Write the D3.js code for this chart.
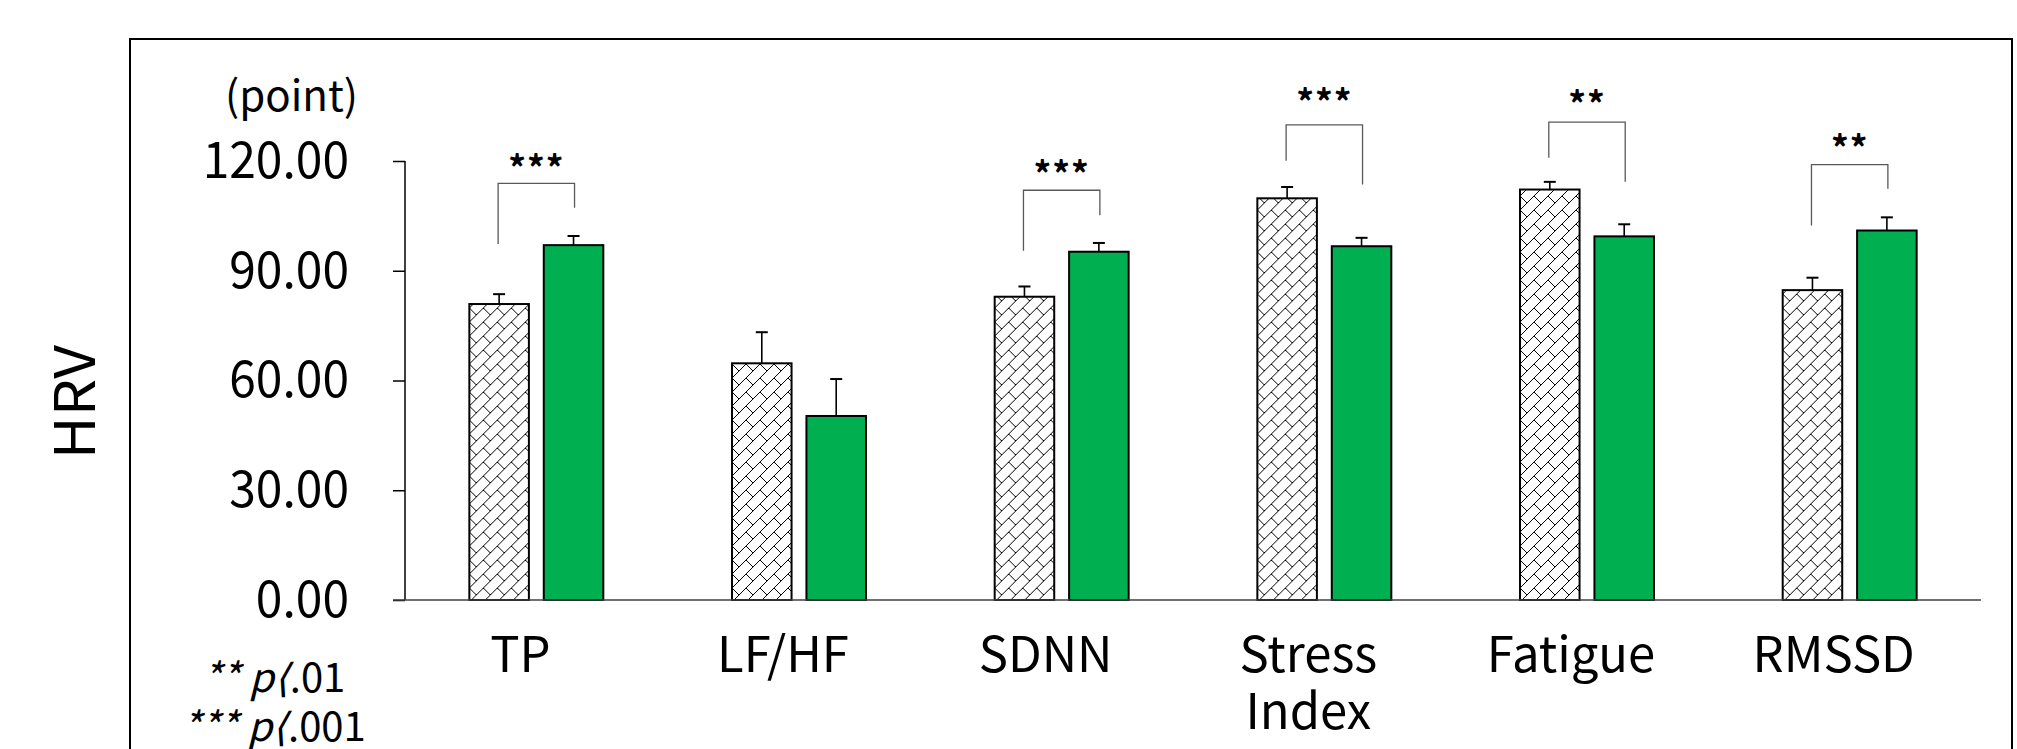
<!DOCTYPE html>
<html>
<head>
<meta charset="utf-8">
<script src="https://cdn.jsdelivr.net/npm/d3@7"></script>
<style>
  html, body { margin: 0; padding: 0; background: #ffffff; }
  svg { display: block; }
</style>
</head>
<body>
<svg id="chart" width="2017" height="749"></svg>
<script>
// ---- data ----
const categories = ["TP", "LF/HF", "SDNN", "Stress Index", "Fatigue", "RMSSD"];
const seriesNames = ["Before", "After"];
const beforeValues = [80.9, 64.7, 82.9, 109.8, 112.2, 84.7];
const beforeErrors = [2.7, 8.5, 2.8, 3.1, 2.1, 3.4];
const afterValues = [97.0, 50.3, 95.2, 96.7, 99.4, 101.0];
const afterErrors = [2.5, 10.1, 2.4, 2.3, 3.3, 3.6];
const yTicks = [0, 30, 60, 90, 120];
const sigLabels = ["***", "", "***", "***", "**", "**"];
const bracketTop = [113.9, null, 112.0, 129.9, 130.6, 119.0];
const bracketLeftEnd = [97.3, null, 95.5, 120.1, 120.9, 102.4];
const bracketRightEnd = [107.2, null, 105.2, 113.6, 114.3, 112.4];
const starLevel = [119.6, null, 118.2, 137.8, 137.2, 125.1];
const yUnit = "(point)";
const yTitle = "HRV";
const notes = [["** p⟨", ".01"], ["*** p⟨", ".001"]];

// ---- layout ----
const FONT = "'Noto Sans CJK KR', 'Noto Sans', sans-serif";
const svg = d3.select("#chart");
const green = "#00B050";

const x0 = d3.scaleBand().domain(categories).range([405, 1981]).paddingInner(0.49).paddingOuter(0.245);
const x1 = d3.scaleBand().domain(seriesNames).range([0, x0.bandwidth()]).paddingInner(0.2);
const y = d3.scaleLinear().domain([0, 120]).range([600, 161]);

// pattern (diagonal brick)
const defs = svg.append("defs");
const pat = defs.append("pattern").attr("id", "brick").attr("patternUnits", "userSpaceOnUse")
  .attr("width", 14).attr("height", 14);
pat.append("rect").attr("width", 14).attr("height", 14).attr("fill", "#fff");
pat.append("path").attr("d", "M-1,15 L15,-1 M0,0 L7,7 M-1,1 L1,-1 M13,15 L15,13")
  .attr("stroke", "#000").attr("stroke-width", 1).attr("fill", "none");

// outer frame
svg.append("rect").attr("x", 130).attr("y", 39).attr("width", 1882).attr("height", 760)
  .attr("fill", "none").attr("stroke", "#000").attr("stroke-width", 2);

// y axis
const sxTick = 0.94;
const yAxis = svg.append("g").attr("transform", "translate(405,0)")
  .call(d3.axisLeft(y).tickValues(yTicks).tickSize(12).tickPadding(45).tickFormat(d3.format(".2f")));
yAxis.select(".domain").attr("stroke", "#000").attr("stroke-width", 1.5).attr("d", "M0," + y(120) + "V" + y(0));
yAxis.selectAll(".tick line").attr("stroke", "#000").attr("stroke-width", 1.5);
yAxis.selectAll(".tick text").attr("font-family", FONT).attr("font-size", 51).attr("fill", "#000")
  .attr("x", -56 / sxTick).attr("transform", `scale(${sxTick},1)`);

// bars
const groups = svg.append("g").selectAll("g").data(categories).join("g")
  .attr("transform", d => `translate(${x0(d)},0)`);

categories.forEach((c, i) => {
  const g = groups.filter(d => d === c);
  const vals = [
    { s: "Before", v: beforeValues[i], e: beforeErrors[i] },
    { s: "After", v: afterValues[i], e: afterErrors[i] }
  ];
  g.selectAll("rect.bar").data(vals).join("rect").attr("class", "bar")
    .attr("x", d => x1(d.s)).attr("width", x1.bandwidth())
    .attr("y", d => y(d.v)).attr("height", d => y(0) - y(d.v))
    .attr("fill", d => d.s === "Before" ? "url(#brick)" : green)
    .attr("stroke", "#000").attr("stroke-width", 2);
  // error bars
  vals.forEach(d => {
    const cx = x1(d.s) + x1.bandwidth() / 2;
    g.append("line").attr("x1", cx).attr("x2", cx).attr("y1", y(d.v)).attr("y2", y(d.v + d.e))
      .attr("stroke", "#000").attr("stroke-width", 1.6);
    g.append("line").attr("x1", cx - 6).attr("x2", cx + 6).attr("y1", y(d.v + d.e)).attr("y2", y(d.v + d.e))
      .attr("stroke", "#000").attr("stroke-width", 2);
  });
  // significance bracket
  if (bracketTop[i] != null) {
    const lx = x1("Before") + x1.bandwidth() / 2 - 1;
    const rx = x1("After") + x1.bandwidth() / 2 + 1;
    g.append("path")
      .attr("d", `M${lx},${y(bracketLeftEnd[i])}V${y(bracketTop[i])}H${rx}V${y(bracketRightEnd[i])}`)
      .attr("fill", "none").attr("stroke", "#595959").attr("stroke-width", 1.3);
    g.append("text").attr("x", x0.bandwidth() / 2).attr("y", y(starLevel[i]) + 19)
      .attr("text-anchor", "middle").attr("font-family", FONT).attr("font-weight", "bold")
      .attr("font-size", 35).attr("letter-spacing", 1).text(sigLabels[i]);
  }
});

// x axis line
svg.append("line").attr("x1", 393).attr("x2", 1981).attr("y1", y(0)).attr("y2", y(0))
  .attr("stroke", "#404040").attr("stroke-width", 1.6);

// category labels
categories.forEach(c => {
  const words = c.split(" ");
  const t = svg.append("text").attr("font-family", FONT).attr("font-size", 49)
    .attr("text-anchor", "middle").attr("fill", "#000");
  words.forEach((w, k) => {
    t.append("tspan").attr("x", x0(c) + x0.bandwidth() / 2 - 16).attr("y", 672 + k * 57).text(w);
  });
});

// unit label
svg.append("text").attr("x", 358).attr("y", 111).attr("text-anchor", "end")
  .attr("font-family", FONT).attr("font-size", 42).text(yUnit);

// y title
svg.append("text").attr("transform", "translate(95,402) rotate(-90) scale(1.05,1)").attr("text-anchor", "middle")
  .attr("font-family", FONT).attr("font-size", 56).text(yTitle);

// notes
notes.forEach((n, k) => {
  const t = svg.append("text").attr("x", 274).attr("y", 692 + k * 49).attr("text-anchor", "middle")
    .attr("font-family", FONT).attr("font-size", 40);
  t.append("tspan").attr("font-style", "italic").text(n[0]);
  t.append("tspan").text(n[1]);
});
</script>
</body>
</html>
